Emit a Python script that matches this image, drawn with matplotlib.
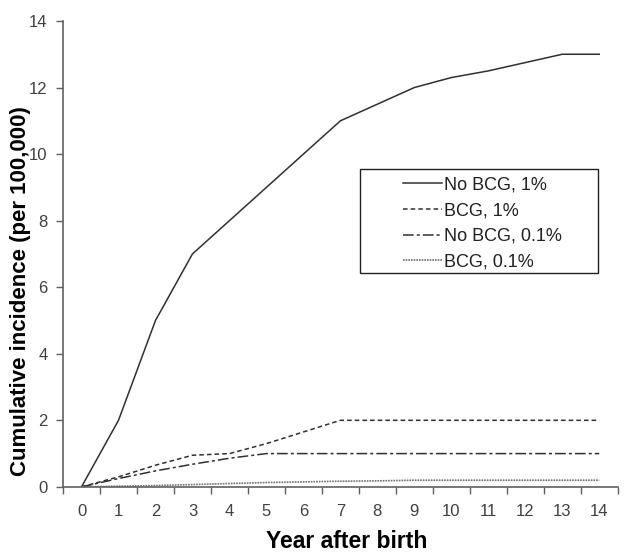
import matplotlib
matplotlib.use("Agg")
import matplotlib.pyplot as plt
from matplotlib.patches import Rectangle

plt.rcParams['font.family'] = ['Liberation Sans', 'DejaVu Sans']

years = list(range(15))
year_labels = [str(y) for y in years]
no_bcg_1 = [0, 2, 5, 7, 8, 9, 10, 11, 11.5, 12, 12.3, 12.5, 12.75, 13, 13]
bcg_1 = [0, 0.3, 0.65, 0.95, 1.0, 1.3, 1.65, 2.0, 2.0, 2.0, 2.0, 2.0, 2.0, 2.0, 2.0]
no_bcg_01 = [0, 0.25, 0.48, 0.68, 0.86, 1.0, 1.0, 1.0, 1.0, 1.0, 1.0, 1.0, 1.0, 1.0, 1.0]
bcg_01 = [0, 0.02, 0.04, 0.07, 0.1, 0.13, 0.15, 0.17, 0.18, 0.2, 0.2, 0.2, 0.2, 0.2, 0.2]
series_names = ["No BCG, 1%", "BCG, 1%", "No BCG, 0.1%", "BCG, 0.1%"]

fig = plt.figure(figsize=(6.24, 5.52), dpi=100)
ax = fig.add_axes([0.101, 0.118, 0.889, 0.844])

ax.plot(years, no_bcg_1, color='#303030', lw=1.1, ls='-', label=series_names[0])
ax.plot(years, bcg_1, color='#303030', lw=1.1, ls=(0, (3, 2)), label=series_names[1])
ax.plot(years, no_bcg_01, color='#303030', lw=1.1, ls=(0, (7, 2, 2, 2)), label=series_names[2])
ax.plot(years, bcg_01, color='#707070', lw=1.2, ls=(0, (1, 0.6)), label=series_names[3])

ax.set_xlim(-0.5, 14.5)
ax.set_ylim(0, 14)
ax.set_yticks(range(0, 15, 2))
ax.set_xticks(years)
ax.set_xticklabels(year_labels)
ax.set_xticks([y + 0.5 for y in range(-1, 15)], minor=True)
ax.tick_params(axis='x', which='major', length=0, pad=12, labelsize=12, labelcolor='#404040')
ax.tick_params(axis='x', which='minor', length=5, width=1, color='#606060', direction='out')
ax.tick_params(axis='y', which='major', length=5, width=1, color='#606060', direction='out',
               labelsize=12, labelcolor='#404040', pad=6)

for s in ['top', 'right']:
    ax.spines[s].set_visible(False)
for s in ['left', 'bottom']:
    ax.spines[s].set_color('#606060')
    ax.spines[s].set_linewidth(1.2)

ax.set_xlabel("Year after birth", fontsize=16.5, fontweight='bold')
ax.xaxis.set_label_coords(0.512, -0.092)
ax.set_ylabel("Cumulative incidence (per 100,000)", fontsize=16, fontweight='bold')
ax.yaxis.set_label_coords(-0.058, 0.42)

ax.add_patch(Rectangle((0.535, 0.459), 0.43, 0.223, transform=ax.transAxes,
                       fill=False, edgecolor='#202020', lw=1.0, zorder=5))
leg = ax.legend(loc='upper left', bbox_to_anchor=(0.586, 0.697), frameon=False,
                fontsize=13, handlelength=2.2, handletextpad=0.1, labelspacing=0.48,
                borderpad=0.3)
for t in leg.get_texts():
    t.set_color('#202020')

fig.savefig("out.png", dpi=100)
